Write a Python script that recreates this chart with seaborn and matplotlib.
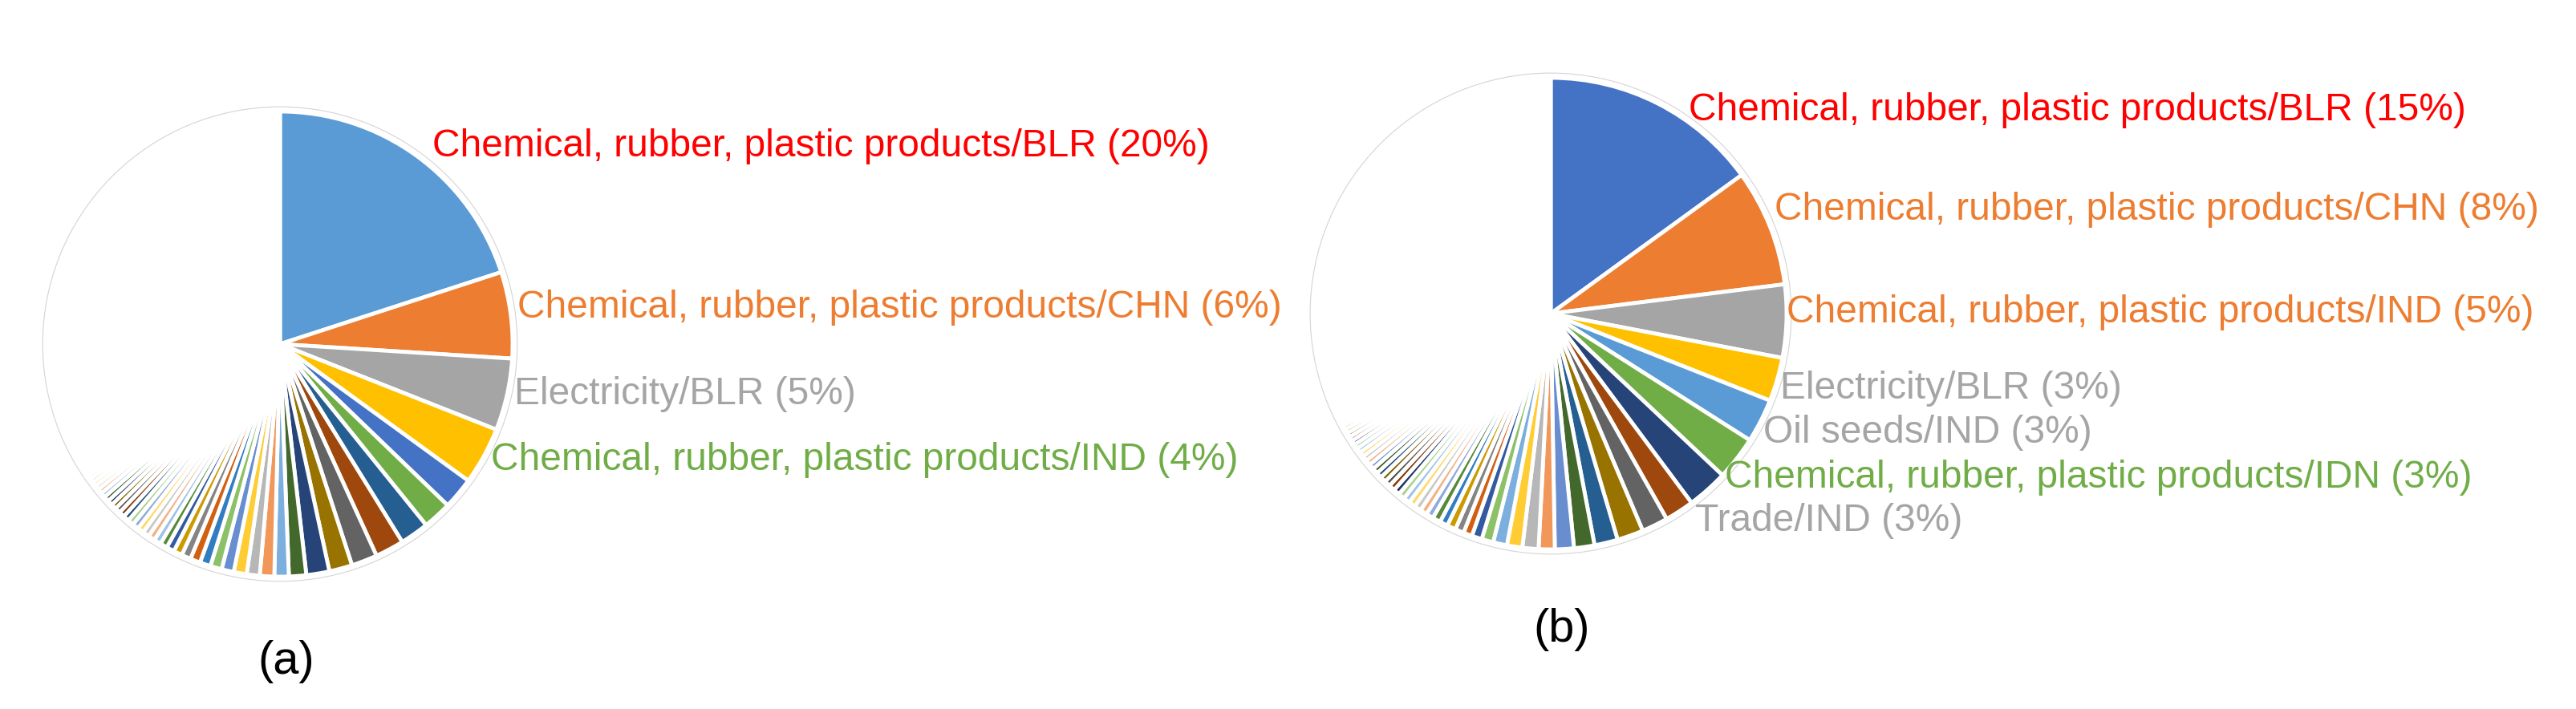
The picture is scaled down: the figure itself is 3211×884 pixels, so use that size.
import colorsys
import matplotlib
matplotlib.use('Agg')
import matplotlib.pyplot as plt
import seaborn as sns

# ---- data -------------------------------------------------------------
# (a) shares of each sector/region (%), clockwise from 12 o'clock
shares_a = [20.0, 6.0, 5.0, 4.0, 2.2, 2.0, 2.0, 2.0, 1.8, 1.6, 1.6, 1.2, 1.0,
            1.0, 0.9, 0.9, 0.85, 0.8, 0.75, 0.7, 0.65, 0.6, 0.55, 0.5,
            0.49, 0.47, 0.46, 0.44, 0.44, 0.42, 0.41, 0.40, 0.38, 0.37,
            0.36, 0.36, 0.34, 0.33, 0.31, 0.30, 0.29, 0.28, 0.27, 0.26,
            0.25, 0.24, 0.22, 0.21, 0.20, 0.19, 0.18, 0.17, 0.16, 0.15,
            0.14, 0.13, 0.12, 0.11, 0.10, 0.10, 0.09, 0.08]
other_a = 31.2

# (b)
shares_b = [15.0, 8.0, 5.0, 3.0, 3.0, 3.0, 2.8, 2.0, 1.8, 1.8, 1.6, 1.4, 1.3,
            1.1, 1.1, 1.05, 0.95, 0.8, 0.7, 0.6, 0.6, 0.6, 0.55, 0.55,
            0.50, 0.48, 0.47, 0.46, 0.45, 0.44, 0.43, 0.42, 0.41, 0.40,
            0.39, 0.38, 0.37, 0.36, 0.35, 0.34, 0.33, 0.32, 0.31, 0.30,
            0.30, 0.29, 0.28, 0.27, 0.26, 0.25, 0.25, 0.24, 0.23, 0.22,
            0.21, 0.20, 0.19, 0.18, 0.17, 0.16, 0.15, 0.14, 0.13, 0.12]
other_b = 29.5

labels_a = ['Chemical, rubber, plastic products/BLR',
            'Chemical, rubber, plastic products/CHN',
            'Electricity/BLR',
            'Chemical, rubber, plastic products/IND']
pct_a = [20, 6, 5, 4]

labels_b = ['Chemical, rubber, plastic products/BLR',
            'Chemical, rubber, plastic products/CHN',
            'Chemical, rubber, plastic products/IND',
            'Electricity/BLR',
            'Oil seeds/IND',
            'Chemical, rubber, plastic products/IDN',
            'Trade/IND']
pct_b = [15, 8, 5, 3, 3, 3, 3]

# ---- styling ----------------------------------------------------------
W, H, DPI = 3212, 884, 100

RED, ORANGE, GRAY, GREEN = '#FF0000', '#ED7D31', '#A5A5A5', '#70AD47'
label_colors_a = [RED, ORANGE, GRAY, GREEN]
label_colors_b = [RED, ORANGE, ORANGE, GRAY, GRAY, GREEN, GRAY]
# left edge / vertical centre of each label, in output pixels
label_pos_a = [(539, 183), (645, 384), (641, 491), (612, 573)]
label_pos_b = [(2105, 138), (2212, 262), (2227, 390), (2219, 484),
               (2198, 540), (2150, 595), (2113, 649)]

accents_a = ['#5B9BD5', '#ED7D31', '#A5A5A5', '#FFC000', '#4472C4', '#70AD47']
accents_b = ['#4472C4', '#ED7D31', '#A5A5A5', '#FFC000', '#5B9BD5', '#70AD47']

sns.set_theme(style='white')
plt.rcParams['font.family'] = ['Liberation Sans', 'DejaVu Sans']


def tint(hexcol, mod, off):
    r, g, b = matplotlib.colors.to_rgb(hexcol)
    h, l, s = colorsys.rgb_to_hls(r, g, b)
    return colorsys.hls_to_rgb(h, min(1.0, l * mod + off), s)


def office_palette(accents, n):
    # same order Excel uses once it runs past the six theme accents
    steps = [(1, 0), (0.6, 0), (0.8, 0.2), (0.8, 0), (0.6, 0.4), (0.5, 0),
             (0.7, 0.3), (0.7, 0), (0.5, 0.5), (0.9, 0), (0.9, 0.1), (0.4, 0)]
    cols = [tint(c, m, o) for m, o in steps for c in accents]
    return sns.color_palette([cols[i % len(cols)] for i in range(n)])


def draw_pie(fig, shares, other, accents, cx, cy, R):
    span = 1.1
    ax = fig.add_axes([(cx - span * R) / W, 1 - (cy + span * R) / H,
                       2 * span * R / W, 2 * span * R / H])
    colors = list(office_palette(accents, len(shares))) + ['white']
    ax.pie(shares + [other], colors=colors, startangle=90, counterclock=False,
           wedgeprops=dict(edgecolor='white', linewidth=3.5))
    # faint outline of the whole pie
    ax.pie([1], colors=['none'], radius=1.02,
           wedgeprops=dict(edgecolor='#d4d4d4', linewidth=0.8, fill=False))
    ax.set_xlim(-span, span)
    ax.set_ylim(-span, span)
    ax.set_aspect('equal')
    ax.axis('off')
    return ax


fig = plt.figure(figsize=(W / DPI, H / DPI), dpi=DPI)

draw_pie(fig, shares_a, other_a, accents_a, 349, 429, 290)
draw_pie(fig, shares_b, other_b, accents_b, 1933, 391, 294)

for name, p, c, (x, y) in zip(labels_a, pct_a, label_colors_a, label_pos_a):
    fig.text(x / W, 1 - y / H, f'{name} ({p}%)', color=c, fontsize=34.5,
             ha='left', va='center')
for name, p, c, (x, y) in zip(labels_b, pct_b, label_colors_b, label_pos_b):
    fig.text(x / W, 1 - y / H, f'{name} ({p}%)', color=c, fontsize=34.5,
             ha='left', va='center')

fig.text(357 / W, 1 - 825 / H, '(a)', color='black', fontsize=41.5,
         ha='center', va='center')
fig.text(1947 / W, 1 - 785 / H, '(b)', color='black', fontsize=41.5,
         ha='center', va='center')

fig.savefig('out.png', dpi=DPI, facecolor='white')
plt.close(fig)
